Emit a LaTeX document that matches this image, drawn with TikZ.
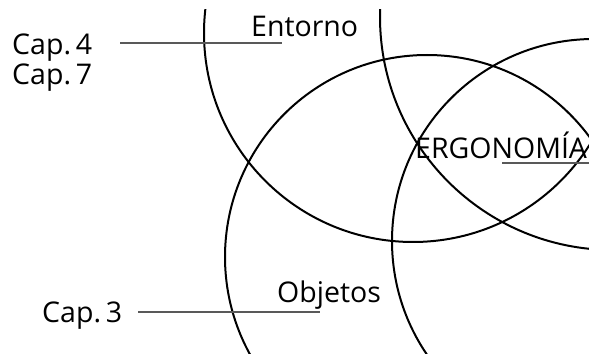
\documentclass[tikz,border=0pt]{standalone}
\usepackage{fontspec}
\setmainfont{Open Sans}
\usetikzlibrary{positioning}
\tikzset{
  circulo/.style={line width=2pt},
  guia/.style={line width=1.3pt,draw=black!65},
  etiqueta/.style={inner sep=0pt,anchor=base west,font=\fontsize{28.5}{30}\selectfont}
}

\begin{document}
\begin{tikzpicture}[x=1pt,y=-1pt]
\useasboundingbox (0,0) rectangle (589,358);
% circulos
\begin{scope}
  \clip (0,10) rectangle (589,353);
  \draw[circulo] (413,33) circle (209pt);
  \draw[circulo] (613,17) circle (233pt);
  \draw[circulo] (427,257) circle (202pt);
  \draw[circulo] (594,241) circle (202pt);
\end{scope}
% textos
\node[etiqueta] (cap4) at (12,55) {Cap.\,4};
\node[etiqueta] (cap7) at (12,85) {Cap.\,7};
\node[etiqueta] (entorno) at (251,37) {Entorno};
\node[etiqueta] (ergo) at (415,159) {ERGONOMÍA};
\node[etiqueta] (objetos) at (277,302) {Objetos};
\node[etiqueta] (cap3) at (42,322) {Cap.\,3};
% lineas guia
\coordinate (g4a) at (120,43);
\coordinate (g4b) at (282,43);
\coordinate (gea) at (502,163);
\coordinate (geb) at (600,163);
\coordinate (g3a) at (138,312);
\coordinate (g3b) at (320,312);
\draw[guia] (g4a) -- (g4b);
\draw[guia] (gea) -- (geb);
\draw[guia] (g3a) -- (g3b);
\end{tikzpicture}
\end{document}
